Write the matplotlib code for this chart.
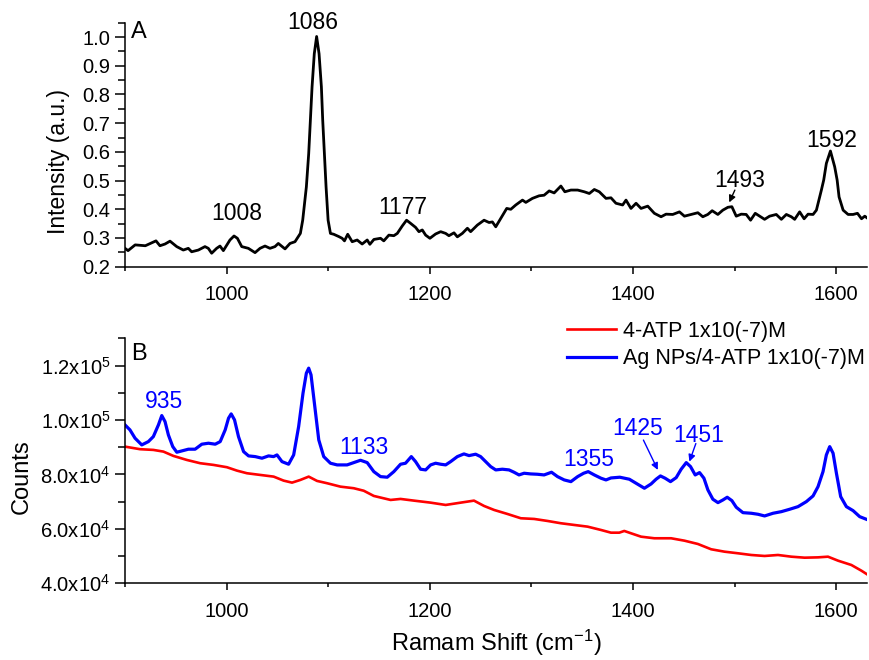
import numpy as np
import matplotlib
matplotlib.use("Agg")
import matplotlib.pyplot as plt
from matplotlib.ticker import MultipleLocator, FuncFormatter

plt.rcParams['font.family'] = ['Liberation Sans', 'DejaVu Sans']
plt.rcParams['mathtext.fontset'] = 'custom'
plt.rcParams['mathtext.rm'] = 'Liberation Sans'
plt.rcParams['mathtext.it'] = 'Liberation Sans:italic'
plt.rcParams['mathtext.bf'] = 'Liberation Sans:bold'

# ---------------- Panel A data (normalized intensity) ----------------
a_shift = [900, 903, 910, 920, 930.5, 934.4, 939.4, 944.3, 950.9, 957.4, 962.3, 965.6,
           972.2, 978.7, 982, 985.3, 990.2, 993.5, 996.8, 1003.3, 1007.3, 1010.6,
           1014.9, 1021.4, 1028, 1032.9, 1037.8, 1042.7, 1047.6, 1050.9, 1057.5,
           1062.4, 1067.3, 1072.6, 1074.9, 1078.5, 1080.8, 1082.4, 1084.1, 1086.3,
           1088.6, 1091, 1093.3, 1094.6, 1096.3, 1097.9, 1099.9, 1102.2, 1105.4,
           1110.4, 1113.7, 1116, 1119.2, 1123.6, 1128.5, 1133.4, 1138.4, 1141, 1145,
           1151.5, 1154.7, 1159.7, 1164.6, 1168, 1172.9, 1177.1, 1181.1, 1186, 1189.3,
           1192.6, 1195.9, 1200.1, 1205.7, 1210.7, 1215.6, 1218.8, 1223.8, 1227.1,
           1232, 1237, 1240.2, 1246.8, 1253.4, 1258.3, 1261.6, 1264.9, 1269.8, 1275.7,
           1279.7, 1284.6, 1291.2, 1294.5, 1301, 1307.6, 1312.5, 1317.5, 1322.4, 1329,
           1332.9, 1338.9, 1345.5, 1352, 1357, 1361.9, 1366.8, 1373.4, 1378.3, 1383.2,
           1389.8, 1393.1, 1398, 1403, 1407.9, 1414.5, 1421, 1427.6, 1432.5, 1439.1,
           1445.7, 1450.6, 1457.2, 1463.8, 1468.7, 1473.6, 1477.9, 1483.5, 1488.4,
           1493.4, 1497.3, 1501.6, 1506.5, 1511.4, 1515.7, 1520.3, 1524.6, 1529.5,
           1534.4, 1541, 1546, 1550.9, 1555.8, 1559.1, 1564, 1568.4, 1572.3, 1577.2,
           1580.5, 1585.4, 1587.7, 1590.3, 1594.3, 1598.5, 1600.9, 1602.8, 1606.8,
           1611.7, 1616.6, 1620.9, 1624.9, 1628.1, 1631.5]
a_intensity = [0.264, 0.256, 0.276, 0.273, 0.290, 0.273, 0.279, 0.289, 0.270, 0.258, 0.264, 0.252,
               0.258, 0.270, 0.264, 0.247, 0.264, 0.272, 0.256, 0.293, 0.307, 0.299,
               0.270, 0.264, 0.249, 0.264, 0.272, 0.264, 0.270, 0.281, 0.262,
               0.281, 0.287, 0.316, 0.362, 0.478, 0.594, 0.710, 0.826, 0.942,
               1.002, 0.942, 0.826, 0.710, 0.594, 0.478, 0.362, 0.316, 0.313,
               0.305, 0.299, 0.290, 0.313, 0.287, 0.293, 0.279, 0.293, 0.278, 0.295,
               0.299, 0.290, 0.310, 0.308, 0.316, 0.342, 0.362, 0.351, 0.337, 0.322,
               0.328, 0.310, 0.299, 0.314, 0.322, 0.316, 0.308, 0.318, 0.304,
               0.316, 0.334, 0.322, 0.345, 0.362, 0.354, 0.356, 0.339, 0.368, 0.403,
               0.400, 0.415, 0.432, 0.424, 0.438, 0.447, 0.449, 0.464, 0.457, 0.481,
               0.461, 0.467, 0.467, 0.461, 0.455, 0.469, 0.461, 0.438, 0.440, 0.421,
               0.415, 0.432, 0.403, 0.421, 0.403, 0.411, 0.386, 0.374, 0.383, 0.382,
               0.391, 0.376, 0.382, 0.388, 0.374, 0.382, 0.395, 0.382, 0.397,
               0.407, 0.409, 0.376, 0.383, 0.382, 0.362, 0.386, 0.376, 0.365,
               0.376, 0.382, 0.365, 0.382, 0.374, 0.365, 0.391, 0.367, 0.383, 0.382,
               0.397, 0.467, 0.502, 0.560, 0.603, 0.548, 0.502, 0.443, 0.397,
               0.382, 0.382, 0.386, 0.367, 0.376, 0.367]

# ---------------- Panel B data (counts) ----------------
b_shift_ag = [900, 904.9, 909.9, 916.5, 923, 927.9, 932.9, 936.2, 939.4, 942.7, 947, 951,
              955.9, 962.4, 969, 975.6, 982.1, 988.8, 993.7, 998.6, 1001.9, 1004.5,
              1007.8, 1011.7, 1016.7, 1021.6, 1028.2, 1034.8, 1041.3, 1046.2, 1049.6,
              1054.5, 1061, 1066, 1070.9, 1075.2, 1078.5, 1080.8, 1083.1, 1086.4,
              1090.7, 1095.6, 1102.2, 1108.8, 1118.6, 1125.2, 1131.8, 1138.4, 1144.9,
              1151.5, 1158.1, 1164.6, 1171.2, 1176.1, 1181.8, 1186, 1190.9, 1195.9,
              1200.8, 1205.7, 1210.7, 1215.6, 1220.5, 1227.1, 1233.6, 1238.6, 1245.1,
              1250, 1255, 1259.9, 1264.9, 1271.4, 1278, 1282.9, 1287.8, 1292.8, 1299.3,
              1305.9, 1312.5, 1319.8, 1325.7, 1332.3, 1338.9, 1345.5, 1351.4, 1355.9,
              1361.9, 1368.5, 1373.4, 1378.3, 1387, 1396.4, 1403, 1411.2, 1417.8,
              1422.7, 1427, 1431.6, 1436.9, 1442.5, 1447.4, 1452.4, 1456.6, 1461.2,
              1465.5, 1469.8, 1473.7, 1478.6, 1483.6, 1488.5, 1492.7, 1497.3, 1501.6,
              1508.2, 1516.4, 1523, 1529.5, 1537.8, 1546, 1554.2, 1562.4, 1570.6,
              1577.2, 1582.1, 1587, 1590.3, 1593.6, 1596.9, 1600.2, 1604.4, 1610,
              1616.6, 1623.1, 1631.4]
b_counts_ag = [98190, 96350, 93300, 90840, 92050, 93890, 98190, 101610, 99400, 94510, 90210, 88150,
               88630, 89260, 89260, 91100, 91460, 91100, 92050, 96350, 100650, 102230,
               100030, 93890, 88380, 86800, 86540, 85950, 86800, 86540, 87160,
               84700, 83740, 87160, 97570, 109840, 117200, 119030, 116570, 106170,
               92680, 86540, 84110, 83490, 83490, 84330, 85200, 84330, 81020,
               79190, 78970, 81020, 83740, 84110, 86540, 84700, 81910, 81650,
               83490, 84110, 83740, 83490, 84700, 86540, 87530, 86910, 87420,
               86540, 84700, 82870, 81650, 81910, 81650, 80800, 79810, 80430, 80180,
               80060, 79810, 80800, 79190, 77970, 77350, 79190, 80430, 81020,
               79810, 78600, 77970, 78700, 78970, 78230, 76760, 74920, 76500,
               78230, 79440, 78600, 77350, 78820, 81910, 84330, 82870, 79810,
               80670, 78600, 74300, 70880, 69630, 70620, 71610, 70370, 67940,
               65950, 65730, 65360, 64740, 65730, 66320, 67200, 68160, 70000,
               72090, 75510, 81020, 87160, 90210, 87790, 80430, 71830, 68160,
               66690, 64480, 63270]

b_shift_atp = [900, 914.8, 927.9, 937.8, 947.6, 960.8, 974, 987.1, 1000.3, 1010.2, 1020,
               1033.1, 1046.3, 1056.1, 1064.4, 1072.6, 1080.8, 1089, 1098.9, 1112, 1125.2,
               1135, 1144.9, 1161.4, 1171.2, 1184.4, 1200.8, 1215.6, 1230.4, 1243.5,
               1253.4, 1263.3, 1276.4, 1289.6, 1302.7, 1315.9, 1329, 1342.2, 1355.3,
               1368.5, 1378.3, 1386.5, 1391.4, 1398, 1407.9, 1421, 1437.5, 1450.6,
               1463.8, 1476.9, 1490, 1503.2, 1516.4, 1529.5, 1542.7, 1555.8, 1568.9,
               1582.1, 1591.9, 1601.8, 1614.9, 1624.8, 1631.4]
b_counts_atp = [90210, 89260, 89000, 88380, 86800, 85320, 84110, 83490, 82640, 81390, 80430,
                79810, 79190, 77720, 76980, 77970, 79190, 77610, 76760, 75510, 74920,
                74000, 72090, 70620, 70990, 70370, 69630, 68780, 69630, 70370,
                68410, 66940, 65470, 63890, 63640, 62900, 62060, 61430, 60810,
                59590, 58600, 58600, 59230, 58380, 57130, 56540, 56540, 55660,
                54450, 52500, 51620, 51030, 50400, 50040, 50400, 49780, 49410,
                49530, 49780, 48310, 46730, 44630, 43050]

legend_labels = ['4-ATP 1x10(-7)M', 'Ag NPs/4-ATP 1x10(-7)M']
a_peaks = ['1008', '1086', '1177', '1493', '1592']
b_peaks = ['935', '1133', '1355', '1425', '1451']

# ---------------- Figure ----------------
W, H = 869, 660
fig = plt.figure(figsize=(W / 100, H / 100), dpi=100)
ax1 = fig.add_axes([125 / W, (H - 266.7) / H, 741.7 / W, 244 / H])
ax2 = fig.add_axes([125 / W, (H - 583.3) / H, 741.7 / W, 245 / H])

tick_fs = 14.5
for ax in (ax1, ax2):
    ax.spines['top'].set_visible(False)
    ax.spines['right'].set_visible(False)
    for s in ('left', 'bottom'):
        ax.spines[s].set_linewidth(1.1)
    ax.set_xlim(900, 1630)
    ax.xaxis.set_major_locator(MultipleLocator(200))
    ax.xaxis.set_minor_locator(MultipleLocator(100))
    ax.tick_params(axis='y', which='major', direction='out', length=7, width=1.1,
                   pad=3.4, labelsize=tick_fs)
    ax.tick_params(axis='y', which='minor', direction='out', length=5, width=1.1)
    ax.tick_params(axis='x', which='major', direction='out', length=4.8, width=1.1,
                   pad=8.5, labelsize=tick_fs)
    ax.tick_params(axis='x', which='minor', direction='out', length=3, width=1.1)

# Panel A
ax1.plot(a_shift, a_intensity, color='black', lw=2.0)
ax1.set_ylim(0.2, 1.05)
ax1.yaxis.set_major_locator(MultipleLocator(0.1))
ax1.yaxis.set_minor_locator(MultipleLocator(0.05))
ax1.yaxis.set_major_formatter(FuncFormatter(lambda v, p: '%.1f' % v))
ax1.set_ylabel('Intensity (a.u.)', fontsize=16.5)
ax1.yaxis.set_label_coords(-0.074, 0.43)
ax1.text(0.019, 0.963, 'A', transform=ax1.transAxes, fontsize=17, ha='center', va='center')

afs = 16.5
ax1.text(1009.5, 0.386, a_peaks[0], fontsize=afs, ha='center', va='center')
ax1.text(1084.4, 1.051, a_peaks[1], fontsize=afs, ha='center', va='center')
ax1.text(1173.7, 0.406, a_peaks[2], fontsize=afs, ha='center', va='center')
ax1.annotate(a_peaks[3], xy=(1494.7, 0.424), xytext=(1504.8, 0.502), fontsize=afs,
             ha='center', va='center',
             arrowprops=dict(arrowstyle='-|>', color='black', lw=1, mutation_scale=10,
                             patchA=None, shrinkA=8, shrinkB=0))
ax1.text(1595.3, 0.641, a_peaks[4], fontsize=afs, ha='center', va='center')

# Panel B
l_red, = ax2.plot(b_shift_atp, b_counts_atp, color='#ff0000', lw=1.9)
l_blue, = ax2.plot(b_shift_ag, b_counts_ag, color='#0000ff', lw=2.3)
ax2.set_ylim(4e4, 1.3e5)
ax2.yaxis.set_major_locator(MultipleLocator(2e4))
ax2.yaxis.set_minor_locator(MultipleLocator(1e4))


def sci_fmt(v, p):
    if v <= 0:
        return ''
    e = int(np.floor(np.log10(v)))
    return r'$\mathregular{%.1fx10^{%d}}$' % (v / 10 ** e, e)


ax2.yaxis.set_major_formatter(FuncFormatter(sci_fmt))
ax2.set_ylabel('Counts', fontsize=17)
ax2.yaxis.set_label_coords(-0.124, 0.435)
ax2.set_xlabel(r'Ramam Shift (cm$^{\mathregular{-1}}$)', fontsize=17, labelpad=5)
ax2.text(0.019, 0.937, 'B', transform=ax2.transAxes, fontsize=17, ha='center', va='center')

bc = '#0000ff'
ax2.text(938.7, 106900, b_peaks[0], fontsize=afs, ha='center', va='center', color=bc)
ax2.text(1135, 89740, b_peaks[1], fontsize=afs, ha='center', va='center', color=bc)
ax2.text(1356.3, 85330, b_peaks[2], fontsize=afs, ha='center', va='center', color=bc)
ax2.annotate(b_peaks[3], xy=(1424.4, 81650), xytext=(1404.6, 96980), fontsize=afs,
             ha='center', va='center', color=bc,
             arrowprops=dict(arrowstyle='-|>', color=bc, lw=1, mutation_scale=10,
                             patchA=None, shrinkA=9.5, shrinkB=0))
ax2.annotate(b_peaks[4], xy=(1455.5, 84700), xytext=(1464.6, 94220), fontsize=afs,
             ha='center', va='center', color=bc,
             arrowprops=dict(arrowstyle='-|>', color=bc, lw=1, mutation_scale=10,
                             patchA=None, shrinkA=6, shrinkB=0))

fig.legend([l_red, l_blue], legend_labels, loc='upper left',
           bbox_to_anchor=(566.7 / W, 1 - 321 / H), bbox_transform=fig.transFigure,
           frameon=False, fontsize=15.5, handlelength=2.3, handletextpad=0.3,
           labelspacing=0.3, borderpad=0, borderaxespad=0)

fig.savefig('out.png', dpi=100)
